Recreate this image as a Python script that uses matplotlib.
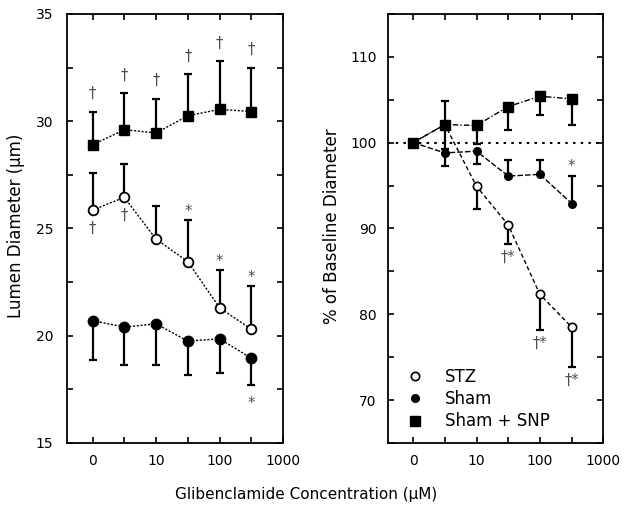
import numpy as np
import matplotlib.pyplot as plt
from matplotlib.ticker import MultipleLocator

plt.rcParams['font.family'] = ['DejaVu Sans']

# --- DATA ---
conc = [0, 3, 10, 30, 100, 300]
tick_labels = ['0', '', '10', '', '100', '', '1000']

# left panel: lumen diameter (um)
snp_diam = [28.9, 29.6, 29.45, 30.25, 30.55, 30.45]
snp_diam_up = [1.55, 1.7, 1.6, 1.95, 2.25, 2.05]
stz_diam = [25.85, 26.45, 24.5, 23.45, 21.3, 20.3]
stz_diam_up = [1.75, 1.55, 1.55, 1.95, 1.75, 2.0]
sham_diam = [20.7, 20.4, 20.55, 19.75, 19.85, 18.95]
sham_diam_dn = [1.85, 1.75, 1.9, 1.6, 1.6, 1.25]

# right panel: % of baseline diameter
stz_pct = [100, 102.1, 94.9, 90.4, 82.3, 78.5]
stz_pct_dn = [0, 2.8, 2.6, 2.2, 4.1, 4.6]
sham_pct = [100, 98.8, 99.0, 96.1, 96.3, 92.9]
sham_pct_dn = [0, 1.5, 1.5, 0, 0, 0]
sham_pct_up = [0, 0, 0, 1.9, 1.7, 3.2]
snp_pct = [100, 102.1, 102.0, 104.2, 105.4, 105.1]
snp_pct_dn = [0, 0, 2.2, 2.7, 2.2, 3.1]
snp_pct_up = [0, 2.7, 0, 0, 0, 0]

# significance symbols (index -> symbol)
snp_diam_marks = {0: '†', 1: '†', 2: '†', 3: '†', 4: '†', 5: '†'}
stz_diam_marks_below = {0: '†', 1: '†'}
stz_diam_marks_above = {3: '*', 4: '*', 5: '*'}
sham_diam_marks = {5: '*'}
sham_pct_marks = {5: '*'}
stz_pct_marks = {3: '†*', 4: '†*', 5: '†*'}

xpos = np.arange(len(conc))


def err_one_side(ax, y, dn, up, zorder=2):
    y = np.asarray(y, float)
    dn = np.asarray(dn, float)
    up = np.asarray(up, float)
    for err, sign in ((dn, -1), (up, 1)):
        m = err > 0
        if not m.any():
            continue
        ends = y[m] + sign * err[m]
        ax.vlines(xpos[m], y[m], ends, color='black', lw=1.6, zorder=zorder)
        ax.plot(xpos[m], ends, ls='none', marker='_', ms=6, mew=1.6,
                color='black', zorder=zorder)


def marks(ax, y, err, d, off, size=10.5):
    for i, s in d.items():
        ax.annotate(s, (xpos[i], y[i] + err[i]), xytext=(0, off),
                    textcoords='offset points', ha='center', va='center',
                    fontsize=size, color='0.3')


def style_axes(ax, ypad):
    ax.set_xlim(-0.8, 6.0)
    ax.set_xticks(np.arange(7))
    ax.set_xticklabels(tick_labels)
    ax.tick_params(which='both', direction='in', top=True, right=True,
                   length=4, width=1.2, labelsize=10)
    ax.tick_params(axis='y', pad=ypad)
    ax.tick_params(axis='x', pad=8)
    for sp in ax.spines.values():
        sp.set_linewidth(1.3)


fig = plt.figure(figsize=(6.27, 5.15), dpi=100)
ax1 = fig.add_axes([0.107, 0.14, 0.3445, 0.833])
ax2 = fig.add_axes([0.6184, 0.14, 0.3439, 0.833])

# --- left panel ---
err_one_side(ax1, snp_diam, [0] * 6, snp_diam_up)
err_one_side(ax1, stz_diam, [0] * 6, stz_diam_up)
err_one_side(ax1, sham_diam, sham_diam_dn, [0] * 6)
dots = (0, (1.5, 1.2))
ax1.plot(xpos, snp_diam, ls=dots, lw=1.0, color='black', marker='s',
         ms=7.5, mfc='black', zorder=3)
ax1.plot(xpos, stz_diam, ls=dots, lw=1.0, color='black', marker='o',
         ms=7, mfc='white', mew=1.3, zorder=3)
ax1.plot(xpos, sham_diam, ls=dots, lw=1.0, color='black', marker='o',
         ms=7.5, mfc='black', zorder=3)

marks(ax1, snp_diam, snp_diam_up, snp_diam_marks, 13)
marks(ax1, stz_diam, [0] * 6, stz_diam_marks_below, -13)
marks(ax1, stz_diam, stz_diam_up, stz_diam_marks_above, 6)
marks(ax1, sham_diam, [-e for e in sham_diam_dn], sham_diam_marks, -13)

style_axes(ax1, 10)
ax1.set_ylim(15, 35)
ax1.yaxis.set_major_locator(MultipleLocator(5))
ax1.yaxis.set_minor_locator(MultipleLocator(2.5))

# --- right panel ---
ax2.axhline(100, ls=(0, (1.2, 2.5)), lw=1.5, color='black', zorder=1)
err_one_side(ax2, stz_pct, stz_pct_dn, [0] * 6)
err_one_side(ax2, sham_pct, sham_pct_dn, sham_pct_up)
err_one_side(ax2, snp_pct, snp_pct_dn, snp_pct_up)
ax2.plot(xpos, stz_pct, ls=(0, (3, 2)), lw=1.0, color='black', marker='o',
         ms=6, mfc='white', mew=1.2, zorder=3, label='STZ')
ax2.plot(xpos, sham_pct, ls=(0, (4, 1.5)), lw=1.0, color='black', marker='o',
         ms=5.5, mfc='black', zorder=3, label='Sham')
ax2.plot(xpos, snp_pct, ls=(0, (4, 1.5, 1, 1.5)), lw=1.0, color='black',
         marker='s', ms=6.5, mfc='black', zorder=4, label='Sham + SNP')

marks(ax2, sham_pct, sham_pct_up, sham_pct_marks, 7)
marks(ax2, stz_pct, [-e for e in stz_pct_dn], stz_pct_marks, -10)

style_axes(ax2, 8)
ax2.set_ylim(65, 115)
ax2.yaxis.set_minor_locator(MultipleLocator(5))
ax2.set_yticks([70, 80, 90, 100, 110])

h, l = ax2.get_legend_handles_labels()
leg = ax2.legend(h, l, loc='upper left', bbox_to_anchor=(0.095, 0.19),
                 frameon=False, fontsize=12, handlelength=0,
                 handletextpad=1.8, labelspacing=0.25, borderaxespad=0)
for line in leg.get_lines():
    line.set_linestyle('none')

fig.text(16 / 627, 1 - 226 / 515, 'Lumen Diameter (µm)', rotation=90,
         ha='center', va='center', fontsize=12)
fig.text(332 / 627, 1 - 226 / 515, '% of Baseline Diameter', rotation=90,
         ha='center', va='center', fontsize=12)
fig.text(306 / 627, 1 - 495 / 515, 'Glibenclamide Concentration (µM)',
         ha='center', va='center', fontsize=11)

fig.savefig('out.png', dpi=100)
